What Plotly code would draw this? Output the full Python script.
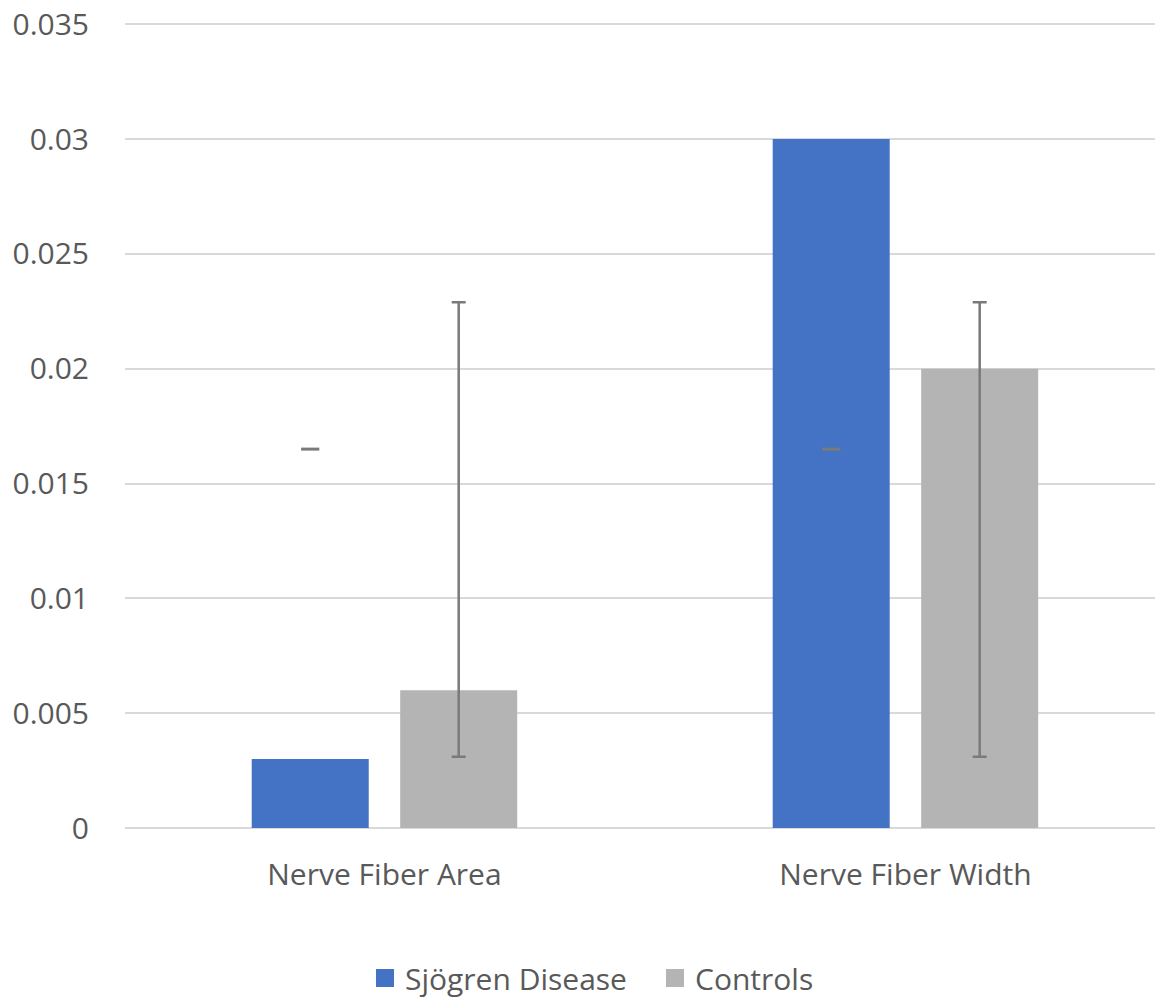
import plotly.graph_objects as go

categories = ["Nerve Fiber Area", "Nerve Fiber Width"]
sjogren_values = [0.003, 0.03]
controls_values = [0.006, 0.02]
controls_err_plus = [0.0169, 0.0029]
controls_err_minus = [0.0029, 0.0169]
sjogren_marker_level = [0.0165, 0.0165]
y_ticks = [0, 0.005, 0.01, 0.015, 0.02, 0.025, 0.03, 0.035]
y_tick_labels = ["0", "0.005", "0.01", "0.015", "0.02", "0.025", "0.03", "0.035"]

BLUE = "#4472C4"
GREY = "#B4B4B4"
ERR = "#7A7A7A"
TXT = "#595959"
FONT = "Open Sans"

xpos = list(range(len(categories)))
bar_w = 0.2246
off = 0.1425

fig = go.Figure()
fig.add_trace(go.Bar(
    x=xpos, y=sjogren_values, name="Sjögren Disease",
    marker=dict(color=BLUE, line=dict(width=0)),
    width=bar_w, offset=-off - bar_w / 2, showlegend=False,
))
fig.add_trace(go.Bar(
    x=xpos, y=controls_values, name="Controls",
    marker=dict(color=GREY, line=dict(width=0)),
    width=bar_w, offset=off - bar_w / 2, showlegend=False,
    error_y=dict(type="data", symmetric=False, array=controls_err_plus,
                 arrayminus=controls_err_minus, color=ERR, thickness=2.5, width=7),
))
fig.add_trace(go.Scatter(
    x=[p - off for p in xpos], y=sjogren_marker_level, mode="markers",
    marker=dict(symbol="line-ew", size=13, line=dict(color=ERR, width=3)),
    showlegend=False, hoverinfo="skip",
))
# legend entries
fig.add_trace(go.Scatter(
    x=[None], y=[None], mode="markers", name="Sjögren Disease",
    marker=dict(symbol="square", size=16, color=BLUE, line=dict(color=BLUE, width=2)),
))
fig.add_trace(go.Scatter(
    x=[None], y=[None], mode="markers", name="Controls",
    marker=dict(symbol="square", size=16, color=GREY, line=dict(color=GREY, width=2)),
))

fig.update_layout(
    width=1166, height=998,
    margin=dict(l=117, r=19, t=14, b=178, autoexpand=False),
    paper_bgcolor="white", plot_bgcolor="white",
    font=dict(family=FONT, color=TXT, size=30),
    barmode="overlay",
    showlegend=True,
    legend=dict(orientation="h", x=0.233, xanchor="left", y=-0.186, yanchor="middle",
                font=dict(size=30, color=TXT), traceorder="normal",
                itemsizing="trace", itemwidth=30,
                entrywidth=245, entrywidthmode="pixels"),
)
fig.update_xaxes(
    range=[-0.498, 1.479], tickvals=xpos, ticktext=categories,
    showgrid=False, zeroline=False, showline=False, ticks="",
    tickfont=dict(size=30, color=TXT), ticklabelstandoff=26, automargin=False,
)
fig.update_yaxes(
    range=[0, 0.0351], tickvals=y_ticks, ticktext=y_tick_labels,
    showgrid=True, gridcolor="#D9D9D9", gridwidth=2,
    zeroline=True, zerolinecolor="#D9D9D9", zerolinewidth=2,
    showline=False, ticks="", tickfont=dict(size=30, color=TXT),
    ticklabelstandoff=35, automargin=False, ticklabeloverflow="allow",
)

fig.write_html("out.html")
